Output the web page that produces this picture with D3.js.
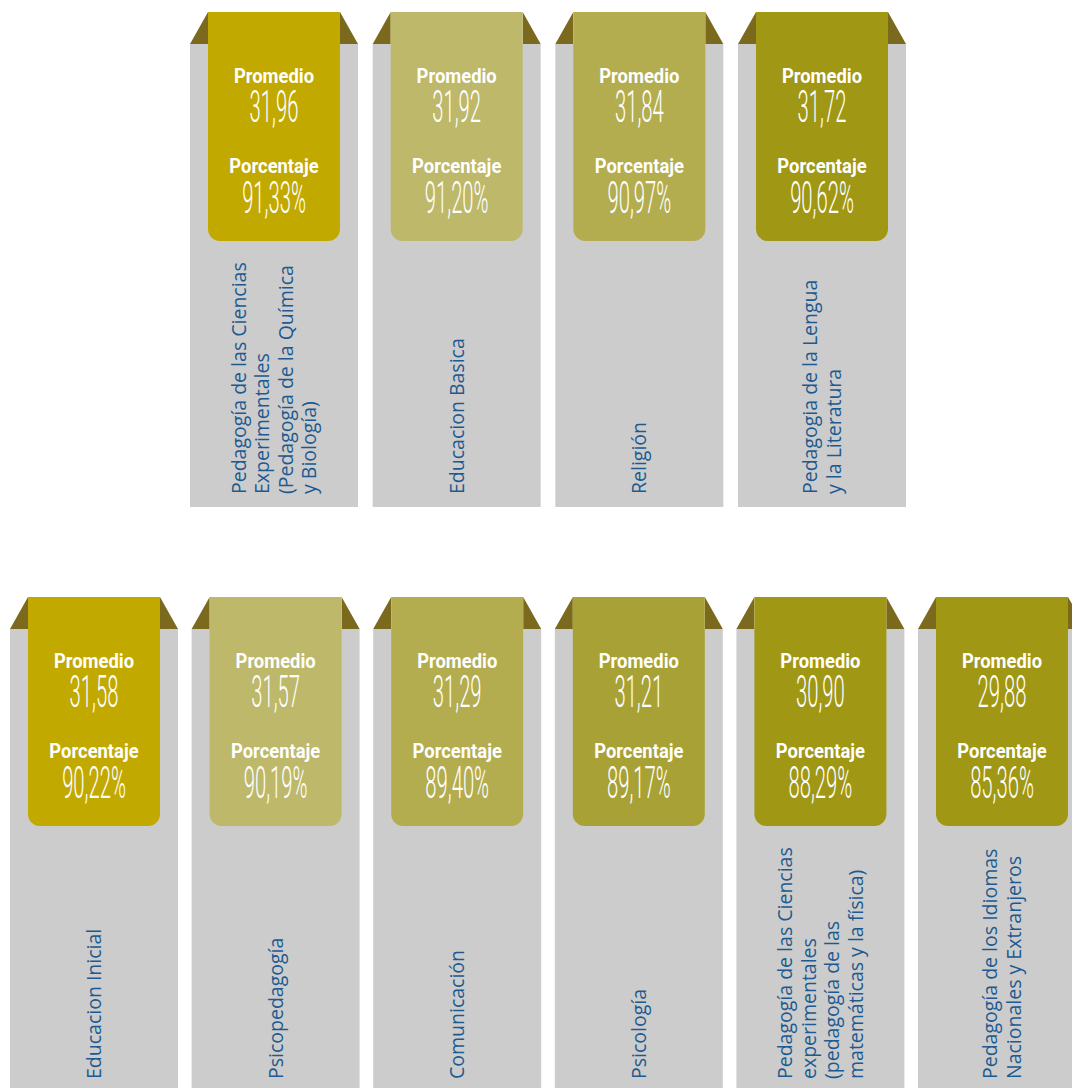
<!DOCTYPE html>
<html>
<head>
<meta charset="utf-8">
<script src="https://cdn.jsdelivr.net/npm/d3@7"></script>
<style>
  html, body { margin: 0; padding: 0; background: #fff; }
  svg { display: block; }
</style>
</head>
<body>
<div id="chart"></div>
<script>
// carreras, primera fila
const topNames = [
    'Pedagogía de las Ciencias\nExperimentales\n(Pedagogía de la Química\ny Biología)',
    'Educacion Basica',
    'Religión',
    'Pedagogia de la Lengua\ny la Literatura'
];
const topPromedio = ['31,96', '31,92', '31,84', '31,72'];
const topPorcentaje = ['91,33%', '91,20%', '90,97%', '90,62%'];

// carreras, segunda fila
const bottomNames = [
    'Educacion Inicial',
    'Psicopedagogía',
    'Comunicación',
    'Psicología',
    'Pedagogía de las Ciencias\nexperimentales\n(pedagogía de las\nmatemáticas y la física)',
    'Pedagogía de los Idiomas\nNacionales y Extranjeros'
];
const bottomPromedio = ['31,58', '31,57', '31,29', '31,21', '30,90', '29,88'];
const bottomPorcentaje = ['90,22%', '90,19%', '89,40%', '89,17%', '88,29%', '85,36%'];

const topColors = ['#c2a900', '#bdb86a', '#b3ad50', '#a09714'];
const bottomColors = ['#c2a900', '#bdb86a', '#b3ad50', '#a8a236', '#a09714', '#a09714'];

const width = 1072;
const height = 1088;
const cardW = 168;
const fold = 18;      // ancho del triangulo oscuro
const drop = 32;      // caida de la cinta sobre la tarjeta
const tabH = 229;
const greyH = 463;
const labelFont = 19.5;
const lineH = 23.5;

const svg = d3.select('#chart')
    .append('svg')
    .attr('width', width)
    .attr('height', height);

function drawRow(names, promedio, porcentaje, colors, xRange, top) {
    const rows = names.map((n, i) => ({
        name: n,
        promedio: promedio[i],
        porcentaje: porcentaje[i],
        color: colors[i]
    }));

    const x = d3.scalePoint()
        .domain(names)
        .range(xRange);

    const card = svg.append('g')
        .selectAll('.card')
        .data(rows)
        .join('g')
        .attr('class', 'card')
        .attr('transform', d => `translate(${x(d.name)},${top})`);

    // fondo gris
    card.append('rect')
        .attr('x', 0)
        .attr('y', drop)
        .attr('width', cardW)
        .attr('height', greyH)
        .attr('fill', '#cccccc');

    // pliegues
    card.append('path')
        .attr('d', `M0,${drop} L${fold},0 L${fold},${drop} Z`)
        .attr('fill', '#7b6a1e');
    card.append('path')
        .attr('d', `M${cardW - fold},0 L${cardW},${drop} L${cardW - fold},${drop} Z`)
        .attr('fill', '#7b6a1e');

    // cinta
    const r = 12;
    const x0 = fold, x1 = cardW - fold;
    card.append('path')
        .attr('d', `M${x0},0 H${x1} V${tabH - r} A${r},${r} 0 0 1 ${x1 - r},${tabH} H${x0 + r} A${r},${r} 0 0 1 ${x0},${tabH - r} Z`)
        .attr('fill', d => d.color);

    const cx = cardW / 2;

    const title = (text, y) => {
        card.append('g')
            .attr('transform', `translate(${cx},${y}) scale(0.92,1)`)
            .append('text')
            .attr('text-anchor', 'middle')
            .attr('fill', '#fff')
            .style('font-family', 'Roboto, sans-serif')
            .style('font-weight', 700)
            .style('font-size', '20px')
            .text(text);
    };
    const value = (fn, y) => {
        card.append('g')
            .attr('transform', `translate(${cx},${y}) scale(0.46,1)`)
            .append('text')
            .attr('text-anchor', 'middle')
            .attr('fill', '#fff')
            .style('font-family', 'Roboto, sans-serif')
            .style('font-weight', 300)
            .style('font-size', '44px')
            .text(fn);
    };

    title('Promedio', 71);
    value(d => d.promedio, 110);
    title('Porcentaje', 161);
    value(d => d.porcentaje, 201);

    // nombre de la carrera, vertical
    const label = card.append('g')
        .attr('transform', `translate(${cx},${drop + 450}) rotate(-90)`)
        .append('text')
        .attr('fill', '#1c5a91')
        .style('font-family', '"Open Sans", sans-serif')
        .style('font-size', labelFont + 'px');

    label.each(function (d) {
        const lines = d.name.split('\n');
        const first = -((lines.length - 1) * lineH - 0.72 * labelFont) / 2;
        d3.select(this).selectAll('tspan')
            .data(lines)
            .join('tspan')
            .attr('x', 0)
            .attr('y', (l, i) => first + i * lineH)
            .text(l => l);
    });
}

drawRow(topNames, topPromedio, topPorcentaje, topColors, [190, 738], 12);
drawRow(bottomNames, bottomPromedio, bottomPorcentaje, bottomColors, [10, 918], 597);
</script>
</body>
</html>
